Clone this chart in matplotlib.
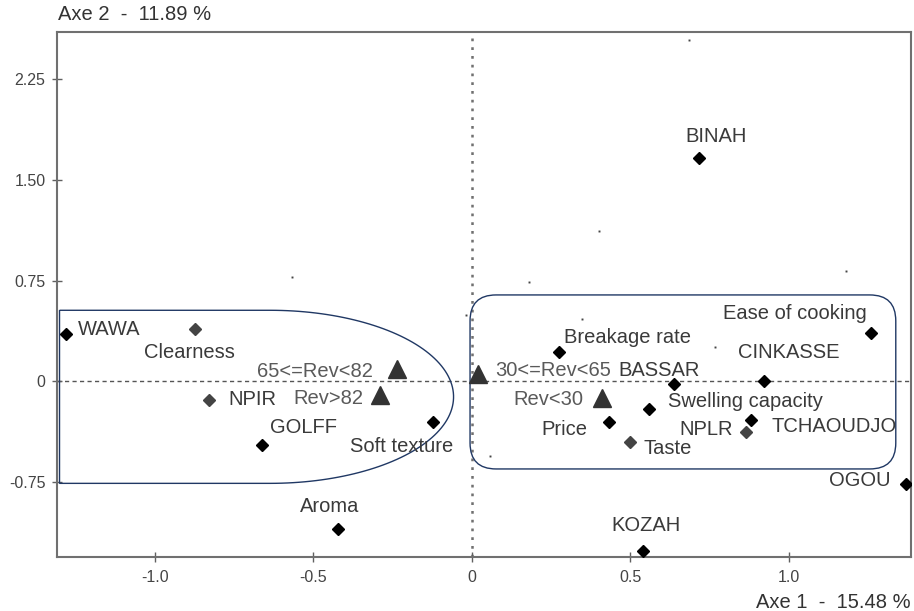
import matplotlib
matplotlib.use('Agg')
import matplotlib.pyplot as plt
import numpy as np
from matplotlib import font_manager
from matplotlib.patches import FancyBboxPatch, PathPatch
from matplotlib.path import Path

# --- data ---
names = ["WAWA", "Clearness", "NPIR", "GOLFF", "Aroma", "Soft texture",
         "Breakage rate", "BASSAR", "CINKASSE", "Ease of cooking",
         "Swelling capacity", "Price", "Taste", "TCHAOUDJO", "NPLR",
         "OGOU", "KOZAH", "BINAH"]
x_pts = [-1.280, -0.872, -0.830, -0.662, -0.422, -0.122,
         0.277, 0.637, 0.921, 1.260,
         0.561, 0.432, 0.500, 0.882, 0.866,
         1.370, 0.542, 0.716]
y_pts = [0.353, 0.390, -0.137, -0.472, -1.096, -0.303,
         0.217, -0.021, 0.004, 0.363,
         -0.207, -0.303, -0.447, -0.286, -0.378,
         -0.764, -1.257, 1.658]
gray_pts = ["Clearness", "NPIR", "Taste", "NPLR"]

rev_names = ["65<=Rev<82", "Rev>82", "30<=Rev<65", "Rev<30"]
rev_x = [-0.234, -0.289, 0.021, 0.411]
rev_y = [0.090, -0.100, 0.056, -0.125]

# unlabelled supplementary points
dot_x = [0.686, 0.402, 0.182, 1.180, -0.018, 0.348, 0.768, 0.058, -0.567]
dot_y = [2.537, 1.120, 0.737, 0.821, 0.496, 0.464, 0.259, -0.553, 0.779]

xticks = [-1.0, -0.5, 0, 0.5, 1.0]
xtick_labels = ["-1.0", "-0.5", "0", "0.5", "1.0"]
yticks = [-0.75, 0, 0.75, 1.50, 2.25]
ytick_labels = ["-0.75", "0", "0.75", "1.50", "2.25"]

# label placement (offset in pixels, alignment)
name_off = [(12, 4, 'left'), (-6, -24, 'center'), (20, 0, 'left'), (8, 17, 'left'),
            (-8, 22, 'center'), (-31, -24, 'center'),
            (5, 15, 'left'), (-14, 14, 'center'), (25, 28, 'center'), (-4, 19, 'right'),
            (19, 8, 'left'), (-21, -7, 'right'), (13, -7, 'left'), (20, -7, 'left'),
            (-13, 3, 'right'), (-15, 4, 'right'), (3, 25, 'center'), (17, 22, 'center')]
rev_off = [(-25, -2, 'right'), (-17, -4, 'right'), (17, 3, 'left'), (-19, -1, 'right')]

installed = {f.name for f in font_manager.fontManager.ttflist}
tick_font = 'Liberation Sans Narrow' if 'Liberation Sans Narrow' in installed else 'Liberation Sans'
tick_size = 12 if tick_font == 'Liberation Sans Narrow' else 11.5
plt.rcParams['font.family'] = ['Liberation Sans', 'DejaVu Sans']

W, H = 914, 611
fig = plt.figure(figsize=(W / 100, H / 100), dpi=100)
ax = fig.add_axes([57.3 / W, 1 - 556.7 / H, (911 - 57.3) / W, (556.7 - 31.7) / H])
ax.set_xlim(-1.307, 1.386)
ax.set_ylim(-1.302, 2.599)

# reference lines
ax.axhline(0, color='#555555', lw=1.0, ls=(0, (3, 2.4)), zorder=1)
ax.axvline(0, color='#707070', lw=1.8, ls=(0, (1.1, 2.4)), zorder=1)

# groups drawn by hand in the original
navy = '#203864'
box = FancyBboxPatch((-0.005, -0.650), 1.343, 1.293,
                     boxstyle="round,pad=0,rounding_size=0.082",
                     mutation_aspect=2.35, fill=False, ec=navy, lw=1.0, zorder=2)
ax.add_patch(box)

xl, xc, a = -1.300, -0.636, 0.579
yc, b = -0.114, 0.643
t = np.linspace(np.pi / 2, -np.pi / 2, 100)
arc = np.column_stack([xc + a * np.cos(t), yc + b * np.sin(t)])
verts = np.vstack([[xl, yc + b], arc, [xl, yc - b], [xl, yc + b]])
ax.add_patch(PathPatch(Path(verts), fill=False, ec=navy, lw=1.0, zorder=2))

# points
for n, x, y in zip(names, x_pts, y_pts):
    c = '#444444' if n in gray_pts else '#000000'
    ax.plot(x, y, 'D', ms=6.5, color=c, mec=c, zorder=4)
ax.plot(rev_x, rev_y, '^', ms=13, color='#333333', zorder=4, ls='none')
ax.plot(dot_x, dot_y, 's', ms=1.4, color='#444444', mew=0, ls='none', zorder=3)

for n, x, y, (dx, dy, ha) in zip(names, x_pts, y_pts, name_off):
    ax.annotate(n, (x, y), xytext=(dx, dy), textcoords='offset pixels',
                ha=ha, va='center', fontsize=14.5, color='#3a3a3a', zorder=5)
for n, x, y, (dx, dy, ha) in zip(rev_names, rev_x, rev_y, rev_off):
    ax.annotate(n, (x, y), xytext=(dx, dy), textcoords='offset pixels',
                ha=ha, va='center', fontsize=14.5, color='#5a5a5a', zorder=5)

# axes styling
for s in ax.spines.values():
    s.set_color('#707070')
    s.set_linewidth(1.5)
ax.set_xticks(xticks)
ax.set_xticklabels(xtick_labels)
ax.set_yticks(yticks)
ax.set_yticklabels(ytick_labels)
ax.tick_params(direction='inout', length=7, width=1, color='#606060',
               labelcolor='#444444', labelsize=tick_size, pad=5)
ax.tick_params(axis='x', pad=6)
for lab in ax.get_xticklabels() + ax.get_yticklabels():
    lab.set_family(tick_font)

fig.text(58 / W, 1 - 15 / H, "Axe 2  -  11.89 %", ha='left', va='center',
         fontsize=14.5, color='#333333')
fig.text(911 / W, 1 - 603 / H, "Axe 1  -  15.48 %", ha='right', va='center',
         fontsize=14.5, color='#333333')

fig.savefig('out.png', dpi=100)
